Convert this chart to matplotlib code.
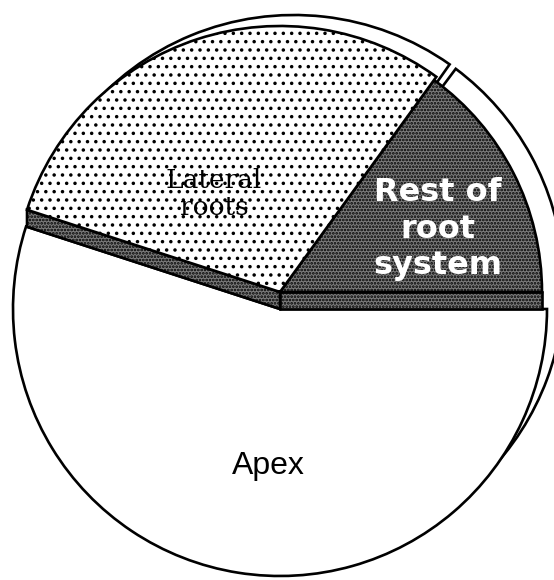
import numpy as np
import matplotlib
matplotlib.use("Agg")
import matplotlib.pyplot as plt
from matplotlib.patches import Wedge, Polygon

# ---- data (share of the root) ----
categories = ["Rest of\nroot\nsystem", "Lateral\nroots", "Apex"]
values = [15, 30, 55]

plt.rcParams["hatch.linewidth"] = 1.3

# ---- figure in pixel-like coordinates ----
W, H = 554, 580
fig = plt.figure(figsize=(W / 100, H / 100), dpi=100)
ax = fig.add_axes([0, 0, 1, 1])
ax.set_xlim(0, W)
ax.set_ylim(0, H)
ax.set_aspect("equal")
ax.axis("off")

def Y(y):
    return H - y

# angles of slice boundaries (counter-clockwise from east)
bounds = np.concatenate([[0], np.cumsum(values)]) / np.sum(values) * 360.0
a_rest = (bounds[0], bounds[1])
a_lat = (bounds[1], bounds[2])
a_apex = (bounds[2], bounds[3])

# geometry / style
apex_c = np.array([280.0, Y(309)])
R_apex = 267
lift = 17
up_c = apex_c + np.array([0, lift])
R_rest = 262
R_lat = 266
out_c = np.array([294.0, Y(285)])
R_out = 270
lw = 1.9
dark = "#7c7c7c"

# outer ring (white, behind)
ax.add_patch(Wedge(out_c, R_out, a_rest[0] - 45, a_rest[1] - 0.8, facecolor="white",
                   edgecolor="black", lw=lw, zorder=1))
ax.add_patch(Wedge(out_c, R_out, a_lat[0] + 0.8, a_lat[1] + 8, facecolor="white",
                   edgecolor="black", lw=lw, zorder=1))

# apex slice
ax.add_patch(Wedge(apex_c, R_apex, a_apex[0], a_apex[1], facecolor="white",
                   edgecolor="black", lw=lw, zorder=2))

# extruded sides of the raised slices
def side(theta, R):
    t = np.deg2rad(theta)
    tip = up_c + R * np.array([np.cos(t), np.sin(t)])
    return [up_c, tip, tip - np.array([0, lift]), up_c - np.array([0, lift])]

for theta, R in [(a_lat[1], R_lat), (a_rest[0], R_rest)]:
    ax.add_patch(Polygon(side(theta, R), closed=True, facecolor=dark,
                         edgecolor="black", lw=lw, hatch=".....", zorder=3))

# rest of root system (dark stipple)
ax.add_patch(Wedge(up_c, R_rest, a_rest[0], a_rest[1], facecolor=dark,
                   edgecolor="black", lw=lw, hatch=".....", zorder=4))
# lateral roots (light dots)
ax.add_patch(Wedge(up_c, R_lat, a_lat[0], a_lat[1], facecolor="white",
                   edgecolor="black", lw=lw, hatch="..", zorder=4))

# labels
ax.text(214, Y(194), categories[1], ha="center", va="center",
        family="DejaVu Serif", fontsize=19, color="black",
        linespacing=1.08, zorder=6)
ax.text(438, Y(229), categories[0], ha="center", va="center",
        family="DejaVu Sans", fontweight="bold", fontsize=23, color="white",
        linespacing=1.22, zorder=6)
ax.text(268, Y(466), categories[2], ha="center", va="center",
        family="Liberation Sans", fontsize=23, color="black", zorder=6)

fig.savefig("out.png", dpi=100)
